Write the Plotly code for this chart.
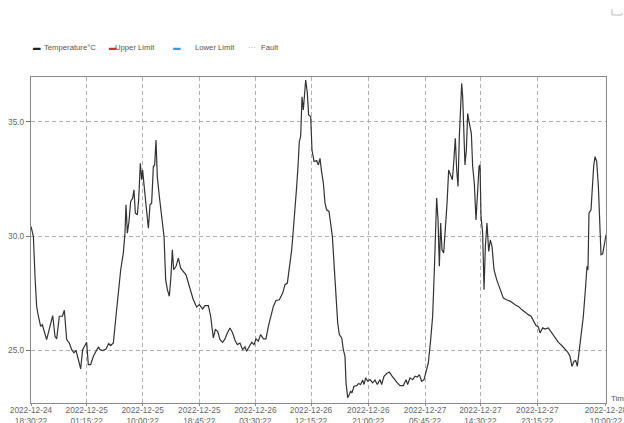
import pandas as pd
import plotly.graph_objects as go

start_time = "2022-12-24 18:30:22"
end_hours = 87.5

hours = [
    0.0, 0.36, 0.61, 0.86, 1.12, 1.47, 1.72, 1.98, 2.38, 2.89, 3.30, 3.65, 3.91, 4.31, 4.77, 5.07,
    5.43, 5.83, 6.19, 6.54, 6.85, 7.20, 7.56, 7.86, 8.22, 8.47, 8.72, 9.08, 9.49, 9.89, 10.25, 10.50,
    10.91, 11.41, 11.82, 12.12, 12.53, 12.93, 13.29, 13.65, 14.05, 14.30, 14.46, 14.66, 14.91, 15.17,
    15.47, 15.67, 15.88, 16.18, 16.38, 16.64, 16.84, 16.99, 17.20, 17.50, 17.86, 18.11, 18.36, 18.62,
    18.82, 19.02, 19.22, 19.53, 19.88, 20.24, 20.49, 20.75, 21.05, 21.30, 21.51, 21.71, 22.07, 22.42,
    22.78, 23.18, 23.59, 24.09, 24.70, 25.21, 25.62, 26.12, 26.48, 26.99, 27.34, 27.75, 28.05, 28.41,
    28.76, 29.17, 29.52, 29.88, 30.28, 30.69, 31.04, 31.40, 31.80, 32.21, 32.57, 32.82, 33.23, 33.58,
    33.94, 34.24, 34.59, 34.95, 35.36, 35.76, 36.12, 36.47, 36.88, 37.28, 37.79, 38.30, 38.65, 39.01,
    39.31, 39.67, 39.92, 40.23, 40.43, 40.63, 40.83, 41.04, 41.24, 41.44, 41.59, 41.80, 42.05, 42.25,
    42.56, 42.76, 43.07, 43.47, 43.73, 43.98, 44.18, 44.49, 44.74, 44.99, 45.35, 45.60, 45.86, 46.11,
    46.41, 46.67, 46.92, 47.28, 47.53, 47.78, 47.94, 48.19, 48.44, 48.65, 48.85, 49.15, 49.56, 49.86,
    50.17, 50.47, 50.67, 50.93, 51.23, 51.59, 51.99, 52.35, 52.70, 53.11, 53.36, 53.72, 54.12, 54.53,
    54.89, 55.24, 55.65, 56.15, 56.66, 57.07, 57.32, 57.67, 58.08, 58.44, 58.79, 59.09, 59.45, 59.81,
    60.11, 60.46, 60.82, 61.12, 61.38, 61.58, 61.73, 61.94, 62.14, 62.34, 62.54, 62.80, 63.05, 63.31,
    63.56, 63.86, 64.12, 64.32, 64.57, 64.78, 64.98, 65.18, 65.38, 65.54, 65.69, 65.89, 66.04, 66.25,
    66.45, 66.70, 67.01, 67.21, 67.46, 67.72, 67.92, 68.18, 68.33, 68.48, 68.73, 68.94, 69.14, 69.39,
    69.65, 69.90, 70.15, 70.46, 70.86, 71.37, 71.88, 72.39, 72.99, 73.65, 74.16, 74.67, 75.18, 75.68,
    76.09, 76.44, 76.85, 77.21, 77.46, 77.86, 78.22, 78.73, 79.23, 79.74, 80.25, 80.76, 81.26, 81.67,
    82.02, 82.33, 82.63, 82.89, 83.14, 83.39, 83.70, 84.05, 84.36, 84.61, 84.76, 84.91, 85.22, 85.42,
    85.62, 85.83, 86.08, 86.34, 86.54, 86.74, 87.00, 87.25, 87.50,
]

temperature = [
    30.42, 29.99, 28.24, 26.93, 26.50, 26.06, 26.13, 25.84, 25.48, 26.06, 26.53, 25.62, 25.51, 26.50, 26.50, 26.76,
    25.48, 25.33, 25.04, 24.90, 25.01, 24.61, 24.20, 25.04, 25.26, 25.36, 24.39, 24.39, 24.75, 24.97, 25.16, 25.04,
    25.00, 25.07, 25.31, 25.22, 25.33, 26.50, 27.66, 28.53, 29.26, 30.13, 31.37, 30.13, 30.64, 31.51,
    31.66, 32.02, 31.00, 30.93, 31.58, 33.18, 32.46, 32.89, 32.24, 31.44, 30.35, 31.37, 31.44, 33.04,
    33.11, 34.20, 32.60, 31.73, 30.86, 29.99, 28.10, 27.66, 27.37, 28.24, 29.40, 28.53, 28.68, 29.04,
    28.60, 28.46, 28.31, 27.81, 27.22, 26.90, 27.01, 26.82, 26.96, 26.96, 26.50, 25.55, 25.92, 25.84,
    25.48, 25.36, 25.51, 25.77, 25.99, 25.77, 25.45, 25.26, 25.33, 25.04, 25.16, 24.97, 25.19, 25.36,
    25.26, 25.51, 25.41, 25.70, 25.51, 25.51, 26.06, 26.50, 26.93, 27.19, 27.22, 27.51, 27.88, 27.95,
    28.53, 29.40, 30.28, 31.73, 32.17, 33.04, 34.13, 34.35, 36.09, 35.51, 36.16, 36.82, 36.24, 35.29,
    35.22, 33.76, 33.26, 33.30, 33.11, 33.40, 32.89, 32.31, 31.44, 31.15, 31.08, 30.57, 29.99, 28.82,
    27.37, 26.21, 25.70, 25.55, 25.04, 24.75, 23.59, 22.94, 23.08, 23.23, 23.15, 23.44, 23.47, 23.56,
    23.52, 23.71, 23.52, 23.81, 23.66, 23.73, 23.59, 23.71, 23.52, 23.73, 23.52, 23.88, 24.00, 24.06,
    23.91, 23.77, 23.62, 23.47, 23.47, 23.73, 23.52, 23.81, 23.73, 23.88, 23.84, 23.95, 23.66, 23.73,
    24.10, 24.46, 25.48, 26.50, 28.53, 30.28, 31.66, 30.71, 28.68, 30.57, 29.40, 29.26, 30.28, 31.44,
    32.89, 32.60, 32.46, 33.18, 34.27, 32.89, 32.17, 34.35, 35.94, 36.67, 36.09, 34.35, 33.11, 33.76,
    35.36, 34.93, 34.49, 33.04, 32.31, 30.71, 31.73, 33.04, 33.11, 30.86, 30.13, 27.66, 29.55, 30.57,
    29.33, 29.84, 29.55, 28.53, 28.10, 27.66, 27.29, 27.22, 27.15, 27.00, 26.93, 26.79, 26.67, 26.57,
    26.50, 26.28, 26.09, 26.03, 25.77, 25.99, 25.94, 25.99, 25.77, 25.55, 25.36, 25.22, 25.04, 24.93,
    24.75, 24.31, 24.53, 24.56, 24.31, 24.90, 25.62, 26.50, 27.66, 28.68, 28.53, 31.00, 31.15, 32.17,
    33.04, 33.47, 33.26, 32.17, 30.71, 29.19, 29.23, 29.70, 30.06,
]

tick_hours = [0.0, 8.48, 16.99, 25.61, 34.14, 42.61, 51.33, 59.96, 68.38, 77.05, 87.49]
tick_labels = [
    "2022-12-24<br>18:30:22", "2022-12-25<br>01:15:22", "2022-12-25<br>10:00:22",
    "2022-12-25<br>18:45:22", "2022-12-26<br>03:30:22", "2022-12-26<br>12:15:22",
    "2022-12-26<br>21:00:22", "2022-12-27<br>05:45:22", "2022-12-27<br>14:30:22",
    "2022-12-27<br>23:15:22", "2022-12-28<br>10:00:22",
]
y_ticks = [25.0, 30.0, 35.0]

legend_names = ["Temperature°C", "Upper Limit", "Lower Limit", "Fault"]
legend_glyphs = ["▬", "▬", "▬", "···"]
legend_colors = ["#222222", "#e3262b", "#3b9bd6", "#9a9a9a"]

t0 = pd.Timestamp(start_time)
times = t0 + pd.to_timedelta(hours, unit="h")
tick_times = t0 + pd.to_timedelta(tick_hours, unit="h")
t_end = t0 + pd.to_timedelta(end_hours, unit="h")

W, H = 624, 423
L, R, T, B = 31, 18, 77, 20
PW, PH = W - L - R, H - T - B


def px(x):
    return (x - L) / PW


def py(y):
    return (H - B - y) / PH


FONT = "Liberation Sans, Arial, sans-serif"

fig = go.Figure()
fig.add_trace(go.Scatter(
    x=times, y=temperature, mode="lines", name=legend_names[0],
    line=dict(color="#333333", width=1.2), showlegend=False,
))

grid = dict(showgrid=True, gridcolor="#b0b0b0", gridwidth=1, griddash="4px,3px")
fig.update_xaxes(
    range=[t0, t_end], tickmode="array", tickvals=tick_times, ticktext=tick_labels,
    showline=True, linecolor="#8a8a8a", linewidth=1.2, mirror=True,
    ticks="outside", ticklen=2, tickcolor="#8a8a8a", ticklabelstandoff=-3,
    ticklabeloverflow="allow",
    tickfont=dict(size=8.3, color="#666666", family=FONT), automargin=False,
    zeroline=False, **grid,
)
fig.update_yaxes(
    range=[22.71, 36.95], tickmode="array", tickvals=y_ticks, tickformat=".1f",
    showline=True, linecolor="#8a8a8a", linewidth=1.2, mirror=True,
    ticks="outside", ticklen=4, tickcolor="#777777",
    tickfont=dict(size=8.3, color="#666666", family=FONT), automargin=False,
    zeroline=False, **grid,
)

annotations = []
glyph_x = [31, 107, 171, 246]
text_x = [42, 113, 193, 259]
for name, glyph, color, gx, tx in zip(legend_names, legend_glyphs, legend_colors, glyph_x, text_x):
    annotations.append(dict(x=px(gx), y=py(47), xref="paper", yref="paper", text=glyph,
                            showarrow=False, xanchor="left", yanchor="middle",
                            font=dict(size=7.5, color=color, family=FONT)))
    annotations.append(dict(x=px(tx), y=py(47), xref="paper", yref="paper", text=name,
                            showarrow=False, xanchor="left", yanchor="middle",
                            font=dict(size=7.7, color="#555555", family=FONT)))
annotations.append(dict(x=px(609), y=py(398), xref="paper", yref="paper", text="Time",
                        showarrow=False, xanchor="left", yanchor="middle",
                        font=dict(size=8, color="#555555", family=FONT)))

fig.add_shape(type="path", xref="paper", yref="paper",
              path=f"M {px(612)},{py(9)} L {px(612)},{py(15)} L {px(622)},{py(15)} L {px(622)},{py(13)}",
              line=dict(color="#bbbbbb", width=1))

fig.update_layout(
    width=W, height=H, margin=dict(l=L, r=R, t=T, b=B, autoexpand=False),
    paper_bgcolor="white", plot_bgcolor="white", showlegend=False,
    annotations=annotations, font=dict(family=FONT),
)

fig.write_html(
    "out.html",
    config={"displayModeBar": False},
    post_script="document.body.style.margin='0';document.body.style.overflow='hidden';",
)
